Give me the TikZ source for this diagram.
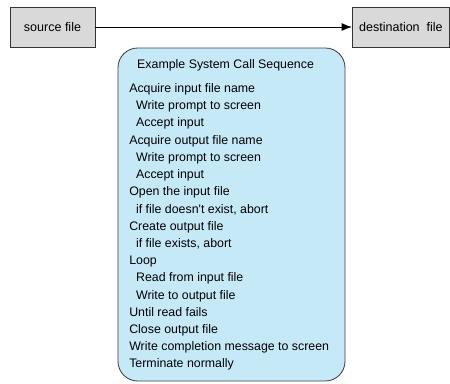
\documentclass[tikz,border=0pt]{standalone}
\usepackage{fontspec}
\setmainfont{Liberation Sans}
\usepackage{xcolor}
\usetikzlibrary{positioning, arrows.meta}

\definecolor{filegray}{HTML}{D9D9D9}
\definecolor{seqblue}{HTML}{C6E9F8}

\begin{document}
\begin{tikzpicture}[
    filebox/.style={
        rectangle,
        draw=black!80,
        line width=0.6pt,
        fill=filegray,
        minimum height=1.0cm,
        font=\fontsize{8.9}{11}\selectfont
    },
    seqbox/.style={
        rectangle,
        draw=black!75,
        line width=0.6pt,
        rounded corners=14pt,
        fill=seqblue,
        minimum width=5.675cm,
        minimum height=8.325cm
    },
    steptext/.style={
        align=left,
        inner sep=0pt,
        font=\fontsize{8.8}{12.25}\selectfont
    }
]
    \useasboundingbox (0,0) rectangle (11.25,-9.575);

    % Files
    \node[filebox, minimum width=2.125cm] (src) at (1.3125,-0.675) {source file};
    \node[filebox, minimum width=2.425cm, anchor=west] (dst) at (8.8,-0.675) {destination\ \ file};
    \draw[-{Latex[length=2.6mm,width=2mm]}, line width=0.7pt] (src) -- (dst);

    % Sequence
    \node[seqbox] (seq) at (5.7875,-5.3625) {};
    \node[steptext, anchor=base] (title) at (5.64,-1.72) {Example System Call Sequence};
    \node[steptext, anchor=north west] (steps) at (3.225,-2.08) {
        Acquire input file name\\
        \hspace{0.55em}Write prompt to screen\\
        \hspace{0.55em}Accept input\\
        Acquire output file name\\
        \hspace{0.55em}Write prompt to screen\\
        \hspace{0.55em}Accept input\\
        Open the input file\\
        \hspace{0.55em}if file doesn\textquotesingle t exist, abort\\
        Create output file\\
        \hspace{0.55em}if file exists, abort\\
        Loop\\
        \hspace{0.55em}Read from input file\\
        \hspace{0.55em}Write to output file\\
        Until read fails\\
        Close output file\\
        Write completion message to screen\\
        Terminate normally
    };
\end{tikzpicture}
\end{document}
